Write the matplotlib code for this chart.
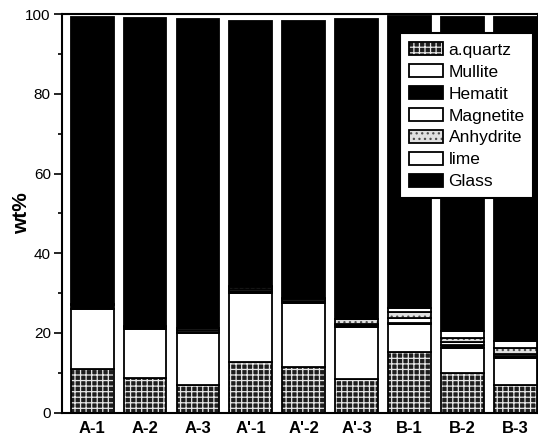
import numpy as np
import matplotlib.pyplot as plt
from matplotlib.patches import Patch
from matplotlib.legend_handler import HandlerTuple
from matplotlib.ticker import MultipleLocator

plt.rcParams['font.family'] = ['Liberation Sans', 'DejaVu Sans']
plt.rcParams['hatch.linewidth'] = 0.9

samples = ["A-1", "A-2", "A-3", "A'-1", "A'-2", "A'-3", "B-1", "B-2", "B-3"]
phases = ['a.quartz', 'Mullite', 'Hematit', 'Magnetite', 'Anhydrite', 'lime', 'Glass']

# wt% of each phase
quartz = [10.9, 8.7, 6.9, 12.8, 11.4, 8.3, 15.2, 9.8, 7.0]
mullite = [15.1, 12.2, 13.0, 17.1, 16.0, 13.2, 6.9, 6.5, 6.8]
hematit = [0.9, 0.5, 0.4, 0.7, 0.6, 0.5, 0.5, 0.6, 0.4]
magnetite = [0.4, 0.4, 0.3, 0.4, 0.4, 0.3, 1.2, 0.9, 0.4]
anhydrite = [0.0, 0.0, 0.5, 0.5, 0.3, 1.1, 1.5, 0.9, 1.5]
lime = [0.0, 0.0, 0.0, 0.2, 0.0, 0.2, 1.0, 1.8, 1.9]
glass = [72.0, 77.3, 77.7, 66.6, 69.6, 75.2, 73.2, 78.8, 81.3]

layers = [quartz, mullite, hematit, magnetite, anhydrite, lime, glass]
# (face colour, hatch, hatch colour)
styles = [('#1e1e1e', '+++', '#e6e6e6'),
          ('white', None, None),
          ('black', None, None),
          ('white', None, None),
          ('#e0e0e0', '...', '#505050'),
          ('white', None, None),
          ('black', None, None)]

fig = plt.figure(figsize=(5.38, 4.4), dpi=100)
ax = fig.add_axes([0.1152, 0.0625, 0.885, 0.905])

x = np.arange(len(samples))
width = 0.81
bottom = np.zeros(len(samples))
handles = []
for vals, (fc, hatch, hc), name in zip(layers, styles, phases):
    vals = np.array(vals)
    ax.bar(x, vals, width, bottom=bottom, color=fc, linewidth=0)
    parts = [Patch(facecolor=fc, linewidth=0)]
    if hatch:
        ax.bar(x, vals, width, bottom=bottom, color='none', edgecolor=hc,
               hatch=hatch, linewidth=0)
        parts.append(Patch(facecolor='none', edgecolor=hc, hatch=hatch, linewidth=0))
    ax.bar(x, vals, width, bottom=bottom, fill=False, edgecolor='black', linewidth=1.3)
    parts.append(Patch(fill=False, edgecolor='black', linewidth=1.3))
    handles.append(tuple(parts))
    bottom += vals

leg = ax.legend(handles, phases, loc='upper right', bbox_to_anchor=(0.99, 0.952),
                handler_map={tuple: HandlerTuple(ndivide=1, pad=0)},
                fontsize=12.5, handlelength=2.0, handleheight=0.8,
                handletextpad=0.3, labelspacing=0.36, borderpad=0.5,
                borderaxespad=0, fancybox=False, framealpha=1)
leg.get_frame().set_edgecolor('black')
leg.get_frame().set_linewidth(1.5)

ax.set_xlim(-0.57, 8.43)
ax.set_ylim(0, 100)
ax.set_xticks(x)
ax.set_xticklabels(samples, fontsize=12, fontweight='bold')
ax.tick_params(axis='x', length=0, pad=6)
ax.yaxis.set_major_locator(MultipleLocator(20))
ax.yaxis.set_minor_locator(MultipleLocator(10))
ax.tick_params(axis='y', which='major', length=6, width=1.2, labelsize=11, pad=2)
ax.tick_params(axis='y', which='minor', length=3, width=1.2)
ax.set_ylabel('wt%', fontsize=15, fontweight='bold')
ax.yaxis.set_label_coords(-0.065, 0.5)
for s in ax.spines.values():
    s.set_linewidth(1.5)

fig.savefig('out.png', dpi=100)
